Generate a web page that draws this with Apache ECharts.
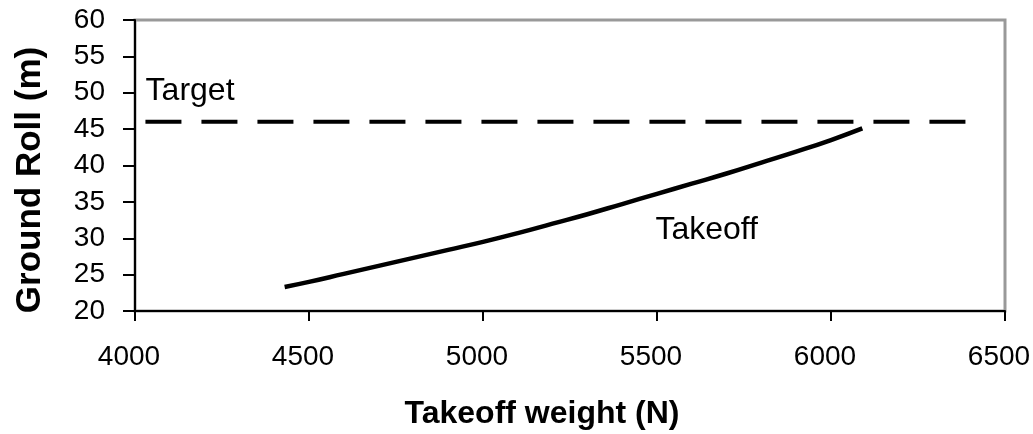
<!DOCTYPE html>
<html>
<head>
<meta charset="utf-8">
<script src="https://cdn.jsdelivr.net/npm/echarts@6/dist/echarts.min.js"></script>
<style>
html,body{margin:0;padding:0;background:#fff;}
#chart{width:1033px;height:434px;}
</style>
</head>
<body>
<div id="chart"></div>
<script>
const weights = [4430, 4500, 4600, 4700, 4800, 4900, 5000, 5100, 5200, 5300, 5400, 5500, 5600, 5700, 5800, 5900, 6000, 6090];
const groundRoll = [23.3, 24.0, 25.1, 26.2, 27.3, 28.4, 29.5, 30.7, 32.0, 33.3, 34.7, 36.1, 37.5, 38.9, 40.4, 41.9, 43.5, 45.1];
const targetX = [4030, 6400];
const targetY = [46, 46];
const annotations = [
  {name: 'Target', x: 4029, y: 50.2},
  {name: 'Takeoff', x: 5494, y: 31.1}
];
const FONT = 'Liberation Sans, Arial, sans-serif';

const chart = echarts.init(document.getElementById('chart'), null, {renderer: 'canvas'});
chart.setOption({
  animation: false,
  backgroundColor: '#fff',
  grid: {left: 135, right: 28, top: 20, bottom: 123, show: true, borderColor: '#999', borderWidth: 3,
    backgroundColor: 'transparent', containLabel: false, outerBoundsMode: 'none'},
  xAxis: {
    type: 'value', min: 4000, max: 6500, interval: 500,
    name: 'Takeoff weight (N)', nameLocation: 'middle', nameGap: 87,
    nameTextStyle: {fontFamily: FONT, fontSize: 32, fontWeight: 'bold', color: '#000', padding: [0, 56, 0, 0]},
    axisLine: {show: true, lineStyle: {color: '#000', width: 2}},
    axisTick: {show: true, inside: false, length: 10, lineStyle: {color: '#000', width: 2}},
    axisLabel: {fontFamily: FONT, fontSize: 28, color: '#000', margin: 32, padding: [0, 12, 0, 0], formatter: v => String(v)},
    splitLine: {show: false}
  },
  yAxis: {
    type: 'value', min: 20, max: 60, interval: 5,
    name: 'Ground Roll (m)', nameLocation: 'middle', nameGap: 87, nameRotate: 90,
    nameTextStyle: {fontFamily: FONT, fontSize: 35, fontWeight: 'bold', color: '#000', padding: [0, 29, 0, 0]},
    axisLine: {show: true, lineStyle: {color: '#000', width: 2}},
    axisTick: {show: true, inside: false, length: 12, lineStyle: {color: '#000', width: 2}},
    axisLabel: {fontFamily: FONT, fontSize: 28, color: '#000', margin: 30, formatter: v => String(v)},
    splitLine: {show: false}
  },
  series: [
    {
      type: 'line', name: 'Takeoff',
      data: weights.map((w, i) => [w, groundRoll[i]]),
      smooth: true, showSymbol: false, symbol: 'none',
      lineStyle: {color: '#000', width: 4.5}
    },
    {
      type: 'line', name: 'Target',
      data: targetX.map((w, i) => [w, targetY[i]]),
      showSymbol: false, symbol: 'none',
      lineStyle: {color: '#000', width: 4, type: [36, 20]}
    },
    {
      type: 'scatter',
      data: annotations.map(a => ({value: [a.x, a.y], name: a.name})),
      symbolSize: 1,
      itemStyle: {color: 'rgba(0,0,0,0)'},
      label: {show: true, position: 'right', distance: 0, align: 'left', verticalAlign: 'middle',
        formatter: p => p.name, fontFamily: FONT, fontSize: 32, color: '#000', opacity: 1, textBorderWidth: 0},
      silent: true
    }
  ]
});
</script>
</body>
</html>
